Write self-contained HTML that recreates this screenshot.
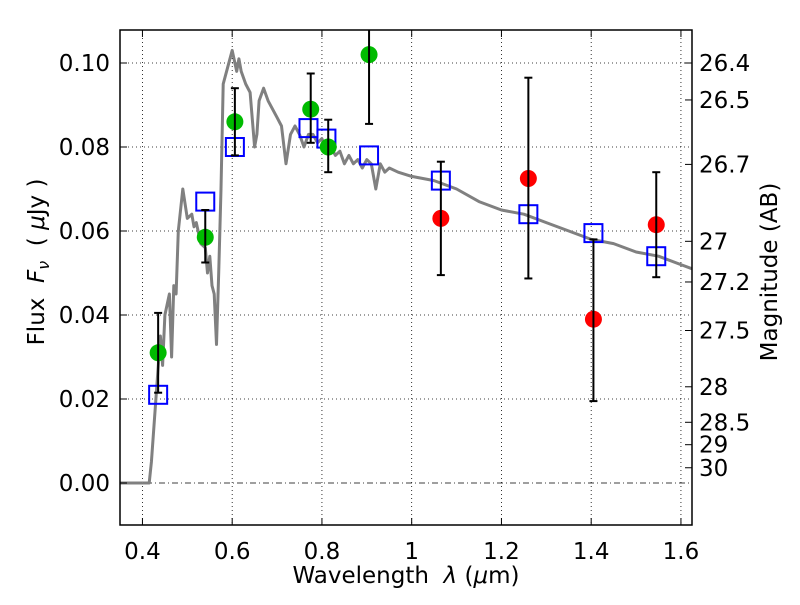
<!DOCTYPE html>
<html><head><meta charset="utf-8"><style>
body{margin:0;background:#fff}
svg text{font-family:"DejaVu Sans","Liberation Sans",sans-serif;fill:#000}
</style></head><body>
<svg id="chart" width="800" height="600" xmlns="http://www.w3.org/2000/svg"></svg>
<script>
const specX=[0.35,0.415,0.42,0.43,0.44,0.445,0.45,0.46,0.465,0.47,0.475,0.48,0.49,0.50,0.51,0.515,0.52,0.53,0.54,0.545,0.55,0.555,0.56,0.565,0.57,0.575,0.58,0.59,0.6,0.61,0.615,0.62,0.63,0.64,0.65,0.655,0.66,0.67,0.68,0.69,0.7,0.71,0.72,0.73,0.74,0.75,0.76,0.77,0.78,0.79,0.80,0.81,0.82,0.83,0.84,0.85,0.86,0.87,0.88,0.89,0.90,0.91,0.92,0.93,0.94,0.95,0.97,1.0,1.05,1.1,1.15,1.2,1.25,1.3,1.35,1.4,1.45,1.5,1.55,1.6,1.625];
const specY=[0,0,0.005,0.02,0.035,0.028,0.040,0.045,0.03,0.047,0.045,0.06,0.07,0.063,0.064,0.061,0.062,0.057,0.056,0.05,0.054,0.047,0.045,0.033,0.05,0.07,0.095,0.099,0.103,0.098,0.101,0.098,0.095,0.093,0.08,0.083,0.091,0.094,0.091,0.089,0.087,0.085,0.076,0.083,0.085,0.083,0.080,0.083,0.083,0.081,0.082,0.079,0.080,0.078,0.079,0.076,0.078,0.076,0.077,0.075,0.077,0.076,0.070,0.076,0.074,0.075,0.074,0.073,0.072,0.070,0.067,0.065,0.064,0.062,0.060,0.058,0.057,0.055,0.054,0.052,0.051];
const greenX=[0.435,0.54,0.606,0.775,0.814,0.905];
const greenY=[0.031,0.0585,0.086,0.089,0.080,0.102];
const greenHi=[0.0405,0.065,0.094,0.0975,0.0865,0.115];
const greenLo=[0.0215,0.0525,0.078,0.081,0.074,0.0855];
const redX=[1.065,1.26,1.405,1.545];
const redY=[0.063,0.0725,0.039,0.0615];
const redHi=[0.0765,0.0965,0.058,0.074];
const redLo=[0.0495,0.0487,0.0195,0.049];
const boxX=[0.435,0.54,0.606,0.77,0.81,0.905,1.065,1.26,1.405,1.545];
const boxY=[0.021,0.067,0.080,0.0845,0.082,0.078,0.072,0.064,0.0595,0.054];
const xTicks=[0.4,0.6,0.8,1.0,1.2,1.4,1.6];
const xTickLabels=["0.4","0.6","0.8","1","1.2","1.4","1.6"];
const yTicks=[0,0.02,0.04,0.06,0.08,0.10];
const yTickLabels=["0.00","0.02","0.04","0.06","0.08","0.10"];
const magTicks=[26.4,26.5,26.7,27,27.2,27.5,28,28.5,29,30];

const L=120,R=692,T=30,B=525;
const sx=v=>L+(v-0.35)*448.75;
const sy=v=>483-v*4200;
const svg=document.getElementById('chart');
const NS='http://www.w3.org/2000/svg';
function mk(tag,a,parent){const e=document.createElementNS(NS,tag);for(const k in a)e.setAttribute(k,a[k]);(parent||svg).appendChild(e);return e;}

const grid=mk('g',{});


xTicks.forEach(v=>mk('line',{x1:sx(v),x2:sx(v),y1:T,y2:B,stroke:'#000','stroke-width':0.8,'stroke-dasharray':'1,3'},grid));
yTicks.forEach(v=>mk('line',{x1:L,x2:R,y1:sy(v),y2:sy(v),stroke:'#000','stroke-width':0.8,'stroke-dasharray':v===0?'6,3,1,3':'1,3'},grid));

const cp=mk('clipPath',{id:'cp'});mk('rect',{x:L,y:T,width:R-L,height:B-T},cp);
const plot=mk('g',{'clip-path':'url(#cp)'});
let d=specX.map((x,i)=>(i?'L':'M')+sx(x).toFixed(1)+','+sy(specY[i]).toFixed(1)).join('');
const spec=mk('path',{d:d,fill:'none',stroke:'#808080','stroke-width':3,'stroke-linejoin':'round'},plot);



function errs(xs,hi,lo,name){xs.forEach((x,i)=>{const g=mk('g',{stroke:'#000','stroke-width':2},plot);


mk('line',{x1:sx(x),x2:sx(x),y1:sy(hi[i]),y2:sy(lo[i])},g);
mk('line',{x1:sx(x)-4,x2:sx(x)+4,y1:sy(hi[i]),y2:sy(hi[i])},g);
mk('line',{x1:sx(x)-4,x2:sx(x)+4,y1:sy(lo[i]),y2:sy(lo[i])},g);});}
boxX.forEach((x,i)=>{const r=mk('rect',{x:sx(x)-9,y:sy(boxY[i])-9,width:18,height:18,fill:'none',stroke:'#0000ff','stroke-width':2},plot);

});
greenX.forEach((x,i)=>{const c=mk('circle',{cx:sx(x),cy:sy(greenY[i]),r:8.5,fill:'#00bb00'},plot);

});
redX.forEach((x,i)=>{const c=mk('circle',{cx:sx(x),cy:sy(redY[i]),r:8.5,fill:'#ff0000'},plot);

});
errs(greenX,greenHi,greenLo,'green-errorbar');
errs(redX,redHi,redLo,'red-errorbar');

const frame=mk('rect',{x:L,y:T,width:R-L,height:B-T,fill:'none',stroke:'#000','stroke-width':1.5});



xTicks.forEach((v,i)=>{mk('line',{x1:sx(v),x2:sx(v),y1:B,y2:B-7,stroke:'#000'});mk('line',{x1:sx(v),x2:sx(v),y1:T,y2:T+7,stroke:'#000'});
const t=mk('text',{x:sx(v),y:B+34,'text-anchor':'middle','font-size':23});t.textContent=xTickLabels[i];

});
yTicks.forEach((v,i)=>{mk('line',{x1:L,x2:L+7,y1:sy(v),y2:sy(v),stroke:'#000'});
const t=mk('text',{x:L-10,y:sy(v)+8,'text-anchor':'end','font-size':23});t.textContent=yTickLabels[i];

});
magTicks.forEach(m=>{const y=sy(Math.pow(10,(23.9-m)/2.5));mk('line',{x1:R-7,x2:R,y1:y,y2:y,stroke:'#000'});
const t=mk('text',{x:R+7,y:y+8,'font-size':23});t.textContent=String(m);

});

let t=mk('text',{x:406,y:583,'text-anchor':'middle','font-size':23});
t.innerHTML='Wavelength &#160;<tspan font-style="italic">λ</tspan> (<tspan font-style="italic">μ</tspan>m)';


t=mk('text',{transform:'translate(44,262) rotate(-90)','text-anchor':'middle','font-size':23});
t.innerHTML='Flux &#160;<tspan font-style="italic">F</tspan><tspan font-style="italic" font-size="16" dy="5">ν</tspan><tspan dy="-5"> &#160;( </tspan><tspan font-style="italic">μ</tspan>Jy )';


t=mk('text',{transform:'translate(777,272) rotate(-90)','text-anchor':'middle','font-size':23});
t.textContent='Magnitude (AB)';


</script>
</body></html>
